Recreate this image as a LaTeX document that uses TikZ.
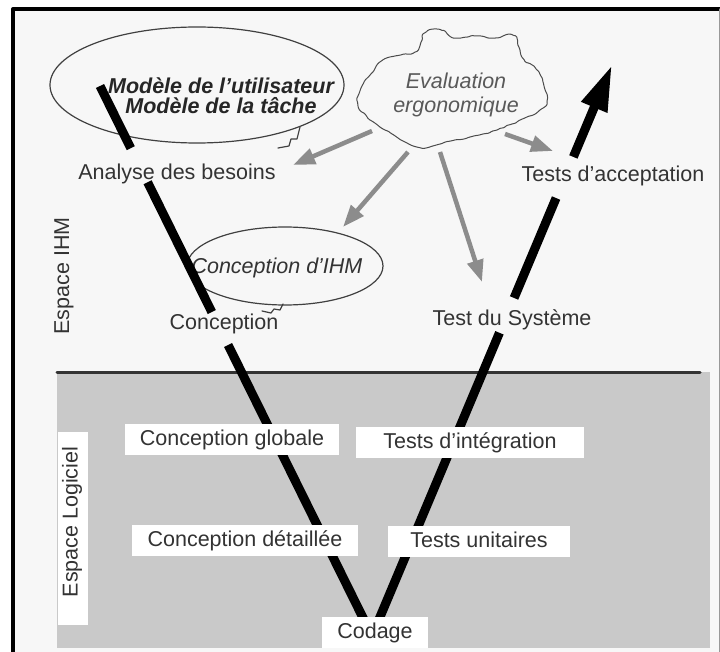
\documentclass[tikz,border=0pt]{standalone}
\usepackage{fontspec}
\setmainfont{Liberation Sans}
\usetikzlibrary{arrows.meta,calc,decorations.pathmorphing}
\definecolor{fond}{gray}{0.97}
\definecolor{zone}{gray}{0.79}
\definecolor{encre}{gray}{0.2}
\definecolor{gristrait}{gray}{0.55}
\begin{document}
\begin{tikzpicture}[x=1pt, y=-1pt, line cap=round, line join=round, font=\fontsize{21.5}{24}\selectfont, text=encre]
	\tikzset{lbl/.style={anchor=base, inner sep=0pt},
		boite/.style={fill=white, anchor=base, text height=16pt, text depth=5pt, inner ysep=5pt},
		bulle/.style={draw=black!75, line width=1.2pt},
		barre/.style={line width=9pt, line cap=butt},
		gris/.style={draw=gristrait, line width=4.5pt, line cap=butt, -{Triangle[length=22pt,width=16pt]}}}
	\useasboundingbox (0,0) rectangle (720,652);
	\fill[white] (0,0) rectangle (720,652);
	\fill[fond] (13,9) rectangle (719,652);
	\fill[zone] (57,372) rectangle (710,648);
	\fill[white] (58,432) rectangle (88,625);
	\draw[black!80, line width=3pt] (57,372) -- (700,372);
	\draw[line width=4pt, line cap=butt] (13,652) -- (13,9) -- (720,9);
	\draw[black!40, line width=1pt] (719,9) -- (719,652);
	\draw[bulle] (197,85) ellipse [x radius=147, y radius=58];
	\draw[bulle] (300,127) -- (297,139) -- (291,139) -- (289,146) -- (278,148);
	\draw[bulle] (285,266) ellipse [x radius=98, y radius=39];
	\draw[bulle] (283,304) -- (280,310) -- (274,309) -- (271,313) -- (262,311);
	\pgfmathsetseed{7}
	\draw[bulle, draw=black!70, line width=1pt, decorate, decoration={random steps, segment length=4pt, amplitude=0.8pt}, rounded corners=1pt] plot[smooth cycle, tension=0.7] coordinates {(425,33) (440,30) (455,38) (475,36) (495,38) (512,35) (518,45) (523,58) (535,68) (543,82) (547,100) (540,110) (527,117) (512,124) (497,130) (483,134) (470,137) (455,140) (440,144) (422,148) (405,142) (392,134) (380,127) (368,118) (358,104) (361,88) (370,75) (380,62) (395,56) (413,53) (420,44)};
	\node[font=\fontsize{21.5}{20}\selectfont\bfseries\itshape, text=black!85, align=center] (modeles) at (221,96) {Modèle de l'utilisateur\\Modèle de la tâche};
	\node[font=\fontsize{21.5}{24}\selectfont\itshape, text=black!65, align=center] (evaluation) at (456,95) {Evaluation\\ergonomique};
	\node[lbl, font=\fontsize{21.5}{24}\selectfont\itshape] (ihm) at (277,274) {Conception d'IHM};
	\coordinate (vhaut) at (100,86);
	\coordinate (vbas) at (372,636);
	\coordinate (vpointe) at (612,65);
	\draw[barre] (vhaut) -- ($(vhaut)!0.113!(vbas)$);
	\draw[barre] ($(vhaut)!0.175!(vbas)$) -- ($(vhaut)!0.411!(vbas)$);
	\draw[barre] ($(vhaut)!0.471!(vbas)$) -- (vbas) -- ($(vbas)!0.531!(vpointe)$);
	\draw[barre] ($(vbas)!0.592!(vpointe)$) -- ($(vbas)!0.767!(vpointe)$);
	\draw[barre, -{Triangle[length=46pt,width=26pt]}] ($(vbas)!0.839!(vpointe)$) -- (vpointe);
	\node[lbl] (analyse) at (177,180) {Analyse des besoins};
	\node[lbl] (conception) at (224,330) {Conception};
	\node[lbl] (systeme) at (512,325) {Test du Système};
	\node[lbl] (acceptation) at (613,182) {Tests d'acceptation};
	\node[boite, inner xsep=15pt] (globale) at (232,445) {Conception globale};
	\node[boite, inner xsep=27pt] (integration) at (470,448) {Tests d'intégration};
	\node[boite, inner xsep=16pt] (detaillee) at (245,546) {Conception détaillée};
	\node[boite, inner xsep=22pt] (unitaires) at (479,547) {Tests unitaires};
	\node[boite, inner xsep=15pt] (codage) at (375,638) {Codage};
	\node[rotate=90] (espihm) at (64,276) {Espace IHM};
	\node[rotate=90] (esplog) at (72,522) {Espace Logiciel};
	\coordinate (ev1) at (372,131); \coordinate (fin1) at (293,165);
	\coordinate (ev2) at (408,152); \coordinate (fin2) at (343,227);
	\coordinate (ev3) at (440,152); \coordinate (fin3) at (482,282);
	\coordinate (ev4) at (505,134); \coordinate (fin4) at (553,151);
	\draw[gris] (ev1) -- (fin1);
	\draw[gris] (ev2) -- (fin2);
	\draw[gris] (ev3) -- (fin3);
	\draw[gris] (ev4) -- (fin4);
\end{tikzpicture}
\end{document}
